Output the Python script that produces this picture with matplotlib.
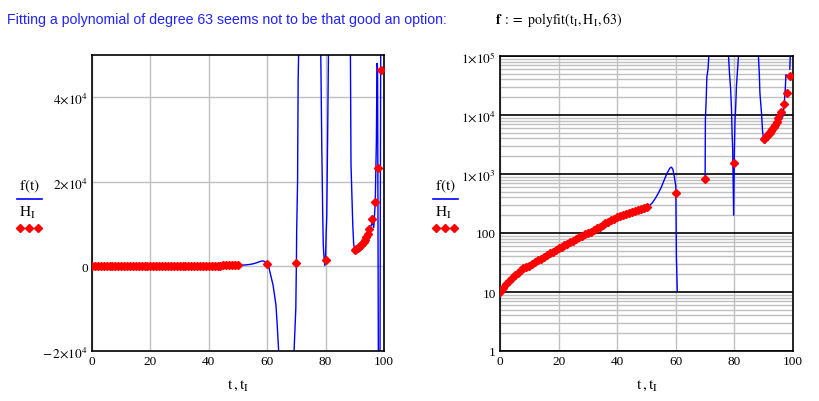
import numpy as np
import matplotlib
matplotlib.use("Agg")
import matplotlib.pyplot as plt
from matplotlib.ticker import FixedLocator, LogLocator, NullFormatter

plt.rcParams['font.family'] = ['Liberation Serif', 'DejaVu Serif']
plt.rcParams['mathtext.fontset'] = 'stix'

# data points H_I at t_I
t_I = list(range(0, 51)) + [60, 70, 80] + [90, 90.5, 91, 91.5, 92, 92.5, 93, 93.5, 94, 94.5, 95, 96, 97, 98, 99]
H_I = [10, 11.8, 13.6, 15.4, 17.3, 19.2, 21.2, 23.2, 25.2, 26.7,
       28, 30, 32, 34.3, 36.7, 39.3, 42, 45, 48, 51.5,
       55, 58.4, 62, 66, 70, 74.3, 79, 84, 89, 94.5,
       100, 106, 113, 120, 128, 136, 145, 154, 164, 174,
       185, 193, 201, 209, 218, 227, 237, 247, 257, 268,
       280,
       471, 813, 1515,
       3900, 4150, 4400, 4700, 5000, 5350, 5750, 6250, 6900, 7600, 8800, 11100, 15300, 23300, 46500]

# polyfit curve f(t) (beyond t=50; below it follows the data)
t_fit = [51, 52, 53, 54, 55, 56, 57, 58, 58.5, 59, 59.5, 60, 60.2, 60.5, 61, 62, 63, 63.5, 64, 65,
         68, 69.2, 69.8, 70, 70.1, 70.4, 70.6, 71, 71.5, 77.5, 78, 78.3, 78.7, 79, 79.2, 79.4, 79.75,
         80, 80.2, 80.4, 80.7, 81, 81.5, 87.8, 88.2, 88.5, 88.7, 89.3, 89.6, 90, 90.4, 91, 92, 93,
         94, 95, 96, 96.5, 97, 97.4, 97.6, 97.8, 98.1, 98.6, 98.9, 99.3, 100]
f_fit = [292, 325, 385, 470, 590, 780, 1030, 1260, 1310, 1200, 900, 620, 40, 10.5, -1500, -4400,
         -9100, -14700, -21000, -40000, -40000, -20000, -9900, 813, 8500, 20000, 44000, 60000,
         150000, 150000, 100000, 53000, 28000, 13000, 5000, 2800, 200, 2500, 8000, 12000, 31000,
         52000, 120000, 120000, 100000, 50000, 24000, 10000, 5400, 3700, 3300, 4200, 4900, 5700,
         6800, 8500, 10500, 9200, 15000, 30000, 48000, 47000, -30000, -30000, 60000, 200000, 500000]

t_curve = list(range(0, 51)) + t_fit
f_curve = H_I[:51] + f_fit

W, H = 819, 402
fig = plt.figure(figsize=(W / 100, H / 100), dpi=100)


def px_axes(l, t, r, b):
    return fig.add_axes([l / W, 1 - b / H, (r - l) / W, (b - t) / H])


def style(ax):
    for s in ax.spines.values():
        s.set_color('black')
        s.set_linewidth(1.2)
    ax.tick_params(which='both', length=0, labelsize=9.5, pad=3)
    ax.set_xlim(0, 100)
    ax.set_xticks([0, 20, 40, 60, 80, 100])
    ax.grid(True, axis='x', color='#c0c0c0', lw=1)
    ax.set_xlabel(r'$\mathrm{t\,,t_I}$', fontsize=11, labelpad=8)


ax1 = px_axes(92, 56, 384, 352)
ax1.plot(t_curve, f_curve, color='#0000ff', lw=1, zorder=2)
ax1.plot(t_I, H_I, ls='none', marker='D', ms=4.2, color='red', mec='red', zorder=3)
ax1.set_ylim(-2e4, 5e4)
ax1.yaxis.set_major_locator(FixedLocator([-2e4, 0, 2e4, 4e4]))
ax1.set_yticklabels([r'$-\,2{\times}10^{4}$', '0', r'$2{\times}10^{4}$', r'$4{\times}10^{4}$'])
ax1.grid(True, axis='y', color='#c0c0c0', lw=1)
style(ax1)

ax2 = px_axes(500, 57, 793, 352)
ax2.set_yscale('log', nonpositive='mask')
ax2.plot(t_curve, f_curve, color='#0000ff', lw=1, zorder=2)
ax2.plot(t_I, H_I, ls='none', marker='D', ms=4.2, color='red', mec='red', zorder=3)
ax2.set_ylim(1, 1e5)
ax2.yaxis.set_major_locator(FixedLocator([1, 10, 100, 1e3, 1e4, 1e5]))
ax2.set_yticklabels(['1', '10', '100', r'$1{\times}10^{3}$', r'$1{\times}10^{4}$', r'$1{\times}10^{5}$'])
ax2.yaxis.set_minor_locator(LogLocator(base=10, subs=np.arange(2, 10), numticks=20))
ax2.yaxis.set_minor_formatter(NullFormatter())
ax2.grid(True, which='major', axis='y', color='black', lw=1.2)
ax2.grid(True, which='minor', axis='y', color='#c0c0c0', lw=1)
style(ax2)

# header texts
fig.text(7 / W, 1 - 20 / H, 'Fitting a polynomial of degree 63 seems not to be that good an option:',
         family='Liberation Sans', fontsize=10.2, color='#2222ff', va='center')
fig.text(495 / W, 1 - 20 / H, r'$\mathbf{f}\ :=\ \mathrm{polyfit}\left(\mathrm{t_I},\mathrm{H_I},63\right)$',
         fontsize=10, color='black', va='center')

# legend-like y labels
for x0 in (17, 433):
    fig.text((x0 + 12) / W, 1 - 186 / H, r'$\mathrm{f(t)}$', fontsize=11, ha='center', va='center')
    fig.add_artist(plt.Line2D([x0 / W, (x0 + 25) / W], [1 - 199.5 / H, 1 - 199.5 / H],
                              color='#0000ff', lw=1.2))
    fig.text((x0 + 10) / W, 1 - 213 / H, r'$\mathrm{H_I}$', fontsize=11, ha='center', va='center')
    for dx in (3, 12, 21):
        fig.add_artist(plt.Line2D([(x0 + dx) / W], [1 - 229 / H], ls='none', marker='D',
                                  ms=4.2, color='red'))

fig.savefig('out.png', dpi=100)
